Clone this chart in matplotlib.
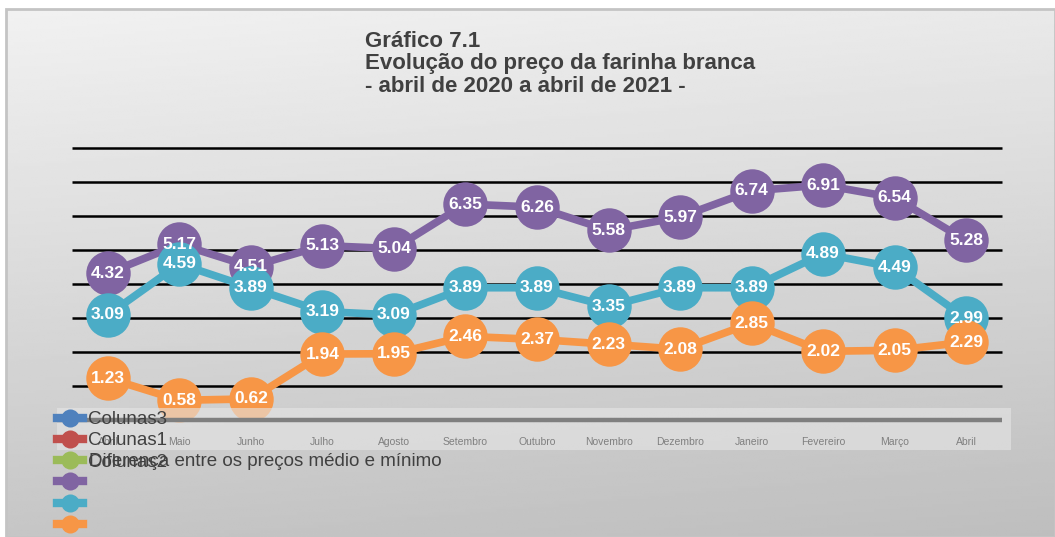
"""
Gráfico 7.1 - evolução do preço da farinha branca
"""
import matplotlib
matplotlib.use("Agg")
import matplotlib.pyplot as plt
import numpy as np
from matplotlib.lines import Line2D
from matplotlib.patches import Rectangle

plt.rcParams["font.family"] = ["Liberation Sans", "DejaVu Sans"]

meses = ["Abril", "Maio", "Junho", "Julho", "Agosto", "Setembro", "Outubro",
         "Novembro", "Dezembro", "Janeiro", "Fevereiro", "Março", "Abril"]
preco_medio = [4.32, 5.17, 4.51, 5.13, 5.04, 6.35, 6.26, 5.58, 5.97, 6.74, 6.91, 6.54, 5.28]
preco_minimo = [3.09, 4.59, 3.89, 3.19, 3.09, 3.89, 3.89, 3.35, 3.89, 3.89, 4.89, 4.49, 2.99]
diferenca = [1.23, 0.58, 0.62, 1.94, 1.95, 2.46, 2.37, 2.23, 2.08, 2.85, 2.02, 2.05, 2.29]

cores = ["#8064a2", "#4bacc6", "#f79646"]

W, H = 1055, 537
fig = plt.figure(figsize=(W / 100, H / 100), dpi=100)
fig.patch.set_facecolor("white")

# gradient panel behind everything
bg = fig.add_axes([6 / W, 0, 1 - 6 / W, (H - 9) / H], zorder=-10)
yy, xx = np.mgrid[0:1:200j, 0:1:200j]
grad = 0.945 - 0.17 * yy - 0.03 * xx
bg.imshow(grad, cmap="gray", vmin=0, vmax=1, aspect="auto", extent=[0, 1, 1, 0])
bg.set_axis_off()
fig.patches.append(Rectangle((6 / W, 0), 1 - 6 / W, (H - 9) / H, transform=fig.transFigure,
                             fill=False, edgecolor="#c4c4c4", linewidth=2, zorder=-5))

ax = fig.add_axes([57 / W, (H - 420) / H, (1011 - 57) / W, 280 / H])
ax.patch.set_alpha(0)
x = np.arange(len(meses))
ax.set_xlim(-0.713, 12.629)
ax.set_ylim(0, 8.235)

for v in range(1, 9):
    ax.hlines(v, -0.5, 12.5, color="black", linewidth=1.8, zorder=1)

for serie, cor in zip([preco_medio, preco_minimo, diferenca], cores):
    ax.plot(x, serie, color=cor, linewidth=5.5, marker="o", markersize=32,
            markeredgewidth=0, solid_capstyle="round", zorder=3, clip_on=False)
for serie in [preco_medio, preco_minimo, diferenca]:
    for xi, v in zip(x, serie):
        ax.text(xi, v, f"{v:.2f}", ha="center", va="center", color="white",
                fontsize=12.5, fontweight="bold", zorder=6, clip_on=False)

# light band for the category axis, drawn over the lines
ax.add_patch(Rectangle((57 / W, (H - 450) / H), (1011 - 57) / W, 42 / H,
                       transform=fig.transFigure, facecolor="#e6e6e6",
                       alpha=0.6, edgecolor="none", zorder=4, clip_on=False))
ax.hlines(0, -0.713, 12.5, color="#7f7f7f", linewidth=3.2, zorder=7, clip_on=False)

ax.set_xticks(x)
ax.set_xticklabels(meses, fontsize=7.5, color="#7f7f7f")
ax.tick_params(axis="x", length=0, pad=12)
ax.xaxis.set_zorder(8)
ax.set_yticks([])
for s in ax.spines.values():
    s.set_visible(False)

fig.text(365 / W, 1 - 31 / H, "Gráfico 7.1\nEvolução do preço da farinha branca\n- abril de 2020 a abril de 2021 -",
         ha="left", va="top", fontsize=16, fontweight="bold", color="#404040",
         linespacing=1.08)

# legend (as in the original, overlapping the plot)
leg_cores = ["#4f81bd", "#c0504d", "#9bbb59"] + cores
leg_nomes = ["Colunas3", "Colunas1", "Colunas2", "", "", ""]
handles = [Line2D([], [], color=c, linewidth=6, marker="o", markersize=13,
                  markeredgewidth=0) for c in leg_cores]
leg = fig.legend(handles, leg_nomes, loc="upper left",
                 bbox_to_anchor=(57 / W, 1 - 411 / H), frameon=False,
                 fontsize=13.5, borderpad=0, borderaxespad=0, handlelength=1.4,
                 handletextpad=0.25, labelspacing=0.22, labelcolor="#404040")
leg.set_zorder(10)
fig.text(89 / W, 1 - 461 / H, "Diferença entre os preços médio e mínimo", ha="left",
         va="center", fontsize=13.5, color="#404040", zorder=11)

fig.savefig("out.png", dpi=100)
